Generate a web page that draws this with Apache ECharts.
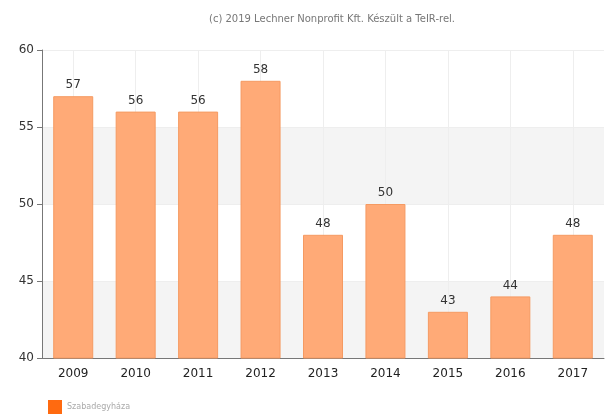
<!DOCTYPE html>
<html>
<head>
<meta charset="utf-8">
<script src="https://cdn.jsdelivr.net/npm/echarts@6/dist/echarts.min.js"></script>
<style>
	html, body { margin: 0; padding: 0; background: #fff; }
	#chart { width: 605px; height: 416px; }
</style>
</head>
<body>
<div id="chart"></div>
<script>
// years on the x axis and the values above each bar
const years = ["2009", "2010", "2011", "2012", "2013", "2014", "2015", "2016", "2017"];
const values = [57, 56, 56, 58, 48, 50, 43, 44, 48];
const seriesName = "Szabadegyháza";
const credit = "(c) 2019 Lechner Nonprofit Kft. Készült a TeIR-rel.";

let chart = echarts.init(document.getElementById("chart"));
let option = {
	animation: false,
	title: {
		text: credit,
		left: 204,
		top: 9,
		textStyle: {
			fontFamily: "DejaVu Sans",
			fontSize: 10,
			fontWeight: "normal",
			color: "#777"
		}
	},
	legend: {
		left: 43,
		top: 395,
		itemWidth: 14,
		itemHeight: 14,
		itemGap: 6,
		textStyle: {
			fontFamily: "DejaVu Sans",
			fontSize: 8,
			color: "#aaa"
		},
		data: [{ name: seriesName, icon: "rect", itemStyle: { color: "#ff6a10", borderWidth: 0 } }]
	},
	grid: {
		left: 42,
		right: 1,
		top: 50,
		bottom: 58
	},
	xAxis: {
		type: "category",
		data: years,
		axisLine: { lineStyle: { color: "#777" } },
		axisTick: { alignWithLabel: true, length: 5, lineStyle: { color: "#777" } },
		axisLabel: {
			fontFamily: "DejaVu Sans",
			fontSize: 12,
			color: "#222",
			margin: 10
		},
		splitLine: { show: false }
	},
	yAxis: {
		type: "value",
		min: 40,
		max: 60,
		interval: 5,
		axisLine: { show: true, lineStyle: { color: "#777" } },
		axisTick: { show: true, length: 5, lineStyle: { color: "#777" } },
		axisLabel: {
			fontFamily: "DejaVu Sans",
			fontSize: 12,
			color: "#333",
			margin: 8
		},
		splitLine: { lineStyle: { color: "#eeeeee" } },
		splitArea: {
			show: true,
			areaStyle: { color: ["#f4f4f4", "#ffffff"] }
		}
	},
	series: [
		{
			// faint vertical grid lines through the category centres
			name: "grid",
			type: "line",
			data: [],
			silent: true,
			markLine: {
				silent: true,
				z: 1,
				symbol: "none",
				label: { show: false },
				lineStyle: { color: "#eeeeee", type: "solid", width: 1 },
				data: years.map(y => ({ xAxis: y }))
			}
		},
		{
			name: seriesName,
			type: "bar",
			data: values,
			barWidth: 40,
			z: 3,
			itemStyle: {
				color: "#ffaa77",
				borderColor: "#f59a62",
				borderWidth: 1
			},
			label: {
				show: true,
				position: "top",
				distance: 5,
				fontFamily: "DejaVu Sans",
				fontSize: 12,
				color: "#333"
			}
		}
	]
};
chart.setOption(option, true);
</script>
</body>
</html>
